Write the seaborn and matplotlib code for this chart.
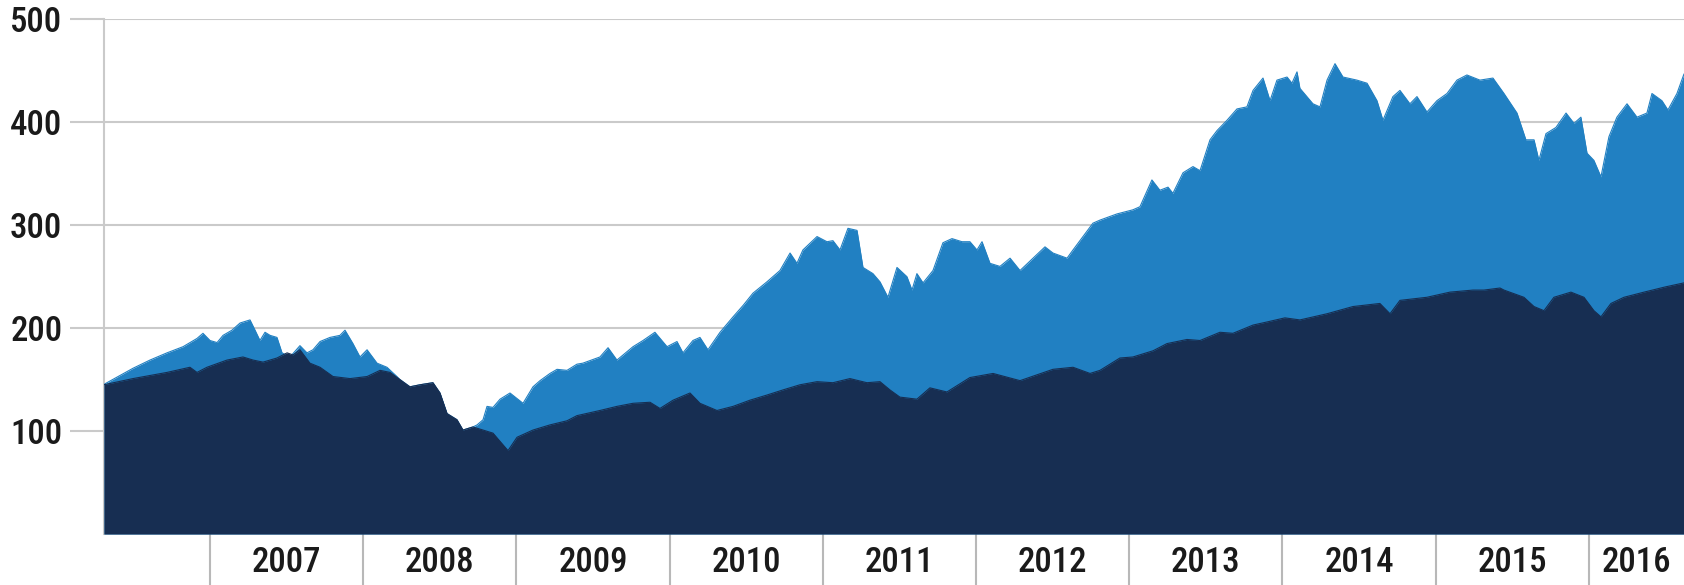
import matplotlib
matplotlib.use("Agg")
import matplotlib.pyplot as plt
import seaborn as sns
import pandas as pd

# ---- data (decimal years, index values) ----
years_light = [
    2006.308, 2006.315, 2006.412, 2006.497, 2006.608, 2006.719, 2006.824, 2006.915, 2006.954, 2007.000,
    2007.046, 2007.085, 2007.143, 2007.196, 2007.261, 2007.294, 2007.326, 2007.359, 2007.392, 2007.437,
    2007.470, 2007.522, 2007.587, 2007.633, 2007.672, 2007.718, 2007.783, 2007.848, 2007.881, 2007.933,
    2007.979, 2008.025, 2008.090, 2008.155, 2008.220, 2008.240, 2008.305, 2008.371, 2008.455, 2008.501,
    2008.547, 2008.612, 2008.651, 2008.716, 2008.743, 2008.782, 2008.808, 2008.847, 2008.893, 2008.958,
    2009.043, 2009.108, 2009.154, 2009.219, 2009.265, 2009.330, 2009.395, 2009.434, 2009.545, 2009.598,
    2009.656, 2009.761, 2009.826, 2009.904, 2009.983, 2010.048, 2010.087, 2010.152, 2010.198, 2010.250,
    2010.329, 2010.414, 2010.479, 2010.544, 2010.635, 2010.720, 2010.786, 2010.831, 2010.870, 2010.962,
    2011.027, 2011.066, 2011.112, 2011.164, 2011.223, 2011.262, 2011.327, 2011.373, 2011.425, 2011.484,
    2011.549, 2011.582, 2011.614, 2011.654, 2011.719, 2011.784, 2011.843, 2011.908, 2011.960, 2012.006,
    2012.039, 2012.091, 2012.156, 2012.222, 2012.287, 2012.372, 2012.450, 2012.502, 2012.594, 2012.633,
    2012.698, 2012.763, 2012.809, 2012.920, 2013.024, 2013.070, 2013.148, 2013.200, 2013.253, 2013.285,
    2013.351, 2013.416, 2013.462, 2013.527, 2013.573, 2013.638, 2013.703, 2013.768, 2013.808, 2013.873,
    2013.919, 2013.964, 2014.030, 2014.062, 2014.095, 2014.114, 2014.199, 2014.245, 2014.291, 2014.343,
    2014.395, 2014.486, 2014.552, 2014.617, 2014.656, 2014.721, 2014.767, 2014.832, 2014.878, 2014.943,
    2015.008, 2015.074, 2015.139, 2015.204, 2015.289, 2015.374, 2015.446, 2015.531, 2015.589, 2015.642,
    2015.674, 2015.720, 2015.785, 2015.851, 2015.903, 2015.948, 2015.988, 2016.033, 2016.079, 2016.131,
    2016.183, 2016.249, 2016.314, 2016.379, 2016.412, 2016.477, 2016.516, 2016.575, 2016.621,
]
index_light = [
    145, 146, 154, 161, 169, 176, 182, 190, 195, 188,
    186, 193, 198, 205, 208, 198, 188, 196, 193, 191,
    176, 172, 183, 176, 179, 187, 191, 193, 198, 185,
    172, 179, 166, 162, 153, 150, 143, 145, 147, 137,
    117, 111, 101, 104, 106, 111, 124, 123, 131, 137,
    127, 143, 149, 156, 160, 159, 165, 166, 172, 181,
    169, 182, 188, 196, 182, 187, 176, 188, 191, 179,
    196, 211, 222, 234, 245, 256, 273, 263, 276, 289,
    284, 285, 276, 297, 295, 259, 253, 245, 230, 259,
    250, 237, 253, 244, 256, 283, 287, 284, 284, 276,
    284, 263, 260, 268, 256, 268, 279, 273, 268, 276,
    289, 302, 305, 311, 315, 318, 344, 334, 337, 331,
    351, 357, 353, 383, 392, 402, 413, 415, 431, 443,
    421, 441, 444, 438, 449, 433, 418, 415, 441, 457,
    444, 441, 438, 421, 402, 425, 431, 418, 425, 410,
    421, 428, 441, 446, 441, 443, 428, 409, 383, 383,
    363, 389, 395, 409, 399, 405, 370, 363, 347, 386,
    405, 418, 405, 409, 428, 421, 412, 428, 447,
]

years_navy = [
    2006.308, 2006.497, 2006.719, 2006.869, 2006.915, 2006.980, 2007.111, 2007.215, 2007.281, 2007.346,
    2007.437, 2007.503, 2007.542, 2007.587, 2007.652, 2007.718, 2007.803, 2007.914, 2008.025, 2008.110,
    2008.175, 2008.240, 2008.305, 2008.371, 2008.455, 2008.501, 2008.547, 2008.612, 2008.651, 2008.716,
    2008.782, 2008.847, 2008.893, 2008.945, 2009.004, 2009.108, 2009.219, 2009.330, 2009.395, 2009.545,
    2009.656, 2009.761, 2009.872, 2009.937, 2010.022, 2010.133, 2010.198, 2010.309, 2010.414, 2010.524,
    2010.635, 2010.740, 2010.851, 2010.962, 2011.066, 2011.177, 2011.288, 2011.373, 2011.438, 2011.503,
    2011.614, 2011.699, 2011.810, 2011.960, 2012.111, 2012.287, 2012.502, 2012.633, 2012.744, 2012.809,
    2012.939, 2013.024, 2013.155, 2013.246, 2013.377, 2013.462, 2013.592, 2013.677, 2013.808, 2013.899,
    2014.016, 2014.114, 2014.291, 2014.460, 2014.636, 2014.702, 2014.767, 2014.943, 2015.093, 2015.243,
    2015.315, 2015.420, 2015.446, 2015.576, 2015.642, 2015.707, 2015.772, 2015.883, 2015.968, 2016.033,
    2016.079, 2016.144, 2016.229, 2016.360, 2016.497, 2016.621,
]
index_navy = [
    145, 151, 157, 162, 157, 162, 169, 172, 169, 167,
    171, 176, 174, 179, 166, 162, 153, 151, 153, 159,
    157, 150, 143, 145, 147, 137, 117, 111, 101, 104,
    101, 98, 90, 81, 94, 101, 106, 110, 115, 120,
    124, 127, 128, 122, 130, 137, 127, 120, 124, 130,
    135, 140, 145, 148, 147, 151, 147, 148, 140, 133,
    131, 142, 138, 152, 156, 149, 160, 162, 156, 159,
    171, 172, 178, 185, 189, 188, 196, 195, 203, 206,
    210, 208, 214, 221, 224, 214, 227, 230, 235, 237,
    237, 239, 237, 230, 221, 217, 230, 235, 230, 217,
    211, 224, 230, 235, 240, 244,
]

year_labels = ["2007", "2008", "2009", "2010", "2011", "2012", "2013", "2014", "2015", "2016"]
y_ticks = [100, 200, 300, 400, 500]

# ---- style ----
sns.set_style("white")
plt.rcParams["font.family"] = ["Roboto Condensed", "Archivo Narrow", "Barlow Semi Condensed", "DejaVu Sans"]
plt.rcParams["font.weight"] = 500

LIGHT = "#2180c2"
NAVY = "#172e52"
GRID = "#cacaca"
SEP = "#b8b8b8"
TEXT = "#1a1a1a"
FS = 25

W, H = 1684, 585
fig = plt.figure(figsize=(W / 100, H / 100), dpi=100)
ax = fig.add_axes([104 / W, 1 - 534 / H, 1 - 104 / W, (534 - 19.4) / H])

df_light = pd.DataFrame({"year": years_light, "value": index_light})
df_navy = pd.DataFrame({"year": years_navy, "value": index_navy})

ax.fill_between(df_light["year"], 0, df_light["value"], color=LIGHT, lw=0, zorder=2)
sns.lineplot(data=df_light, x="year", y="value", color=LIGHT, lw=0.8, ax=ax, zorder=2)
ax.fill_between(df_navy["year"], 0, df_navy["value"], color=NAVY, lw=0, zorder=3)
sns.lineplot(data=df_navy, x="year", y="value", color=NAVY, lw=0.8, ax=ax, zorder=3)

x0, x1 = years_light[0], years_light[-1]
ax.set_xlim(x0, x1)
ax.set_ylim(0, 500)
ax.set_xlabel("")
ax.set_ylabel("")

# y axis
ax.set_yticks(y_ticks)
ax.set_yticklabels([str(v) for v in y_ticks])
ax.yaxis.grid(True, color=GRID, lw=1.5, zorder=0)
ax.xaxis.grid(False)
ax.set_axisbelow(True)
ax.tick_params(axis="y", which="major", left=True, length=24.5, width=1.5, color=GRID,
               pad=5.5, labelsize=FS, labelcolor=TEXT)

# x axis: separators at year starts, labels centred in the visible part of each year
starts = [int(y) for y in year_labels]
centres = [(max(s, x0) + min(s + 1, x1)) / 2 for s in starts]
ax.set_xticks(starts, minor=True)
ax.set_xticks(centres)
ax.set_xticklabels(year_labels)
ax.tick_params(axis="x", which="major", bottom=True, length=0, pad=9, labelsize=FS, labelcolor=TEXT)
ax.tick_params(axis="x", which="minor", bottom=True, length=45, width=1.5, color=SEP)

for s in ["top", "right", "bottom"]:
    ax.spines[s].set_visible(False)
ax.spines["left"].set_color(GRID)
ax.spines["left"].set_linewidth(1.5)
ax.spines["left"].set_zorder(1)

fig.savefig("out.png", dpi=100)
